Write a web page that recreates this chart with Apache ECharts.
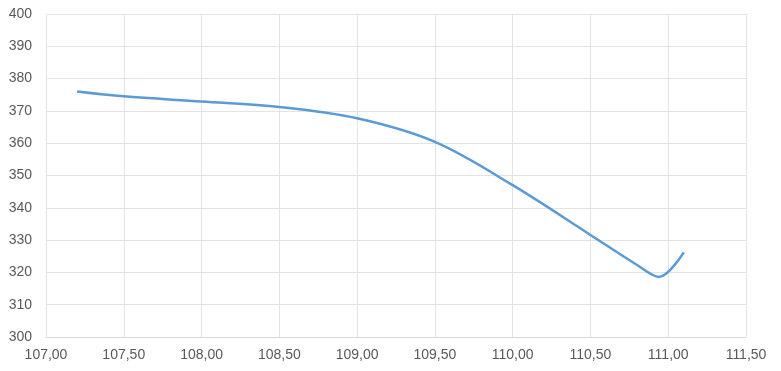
<!DOCTYPE html>
<html>
<head>
<meta charset="utf-8">
<script src="https://cdn.jsdelivr.net/npm/echarts@6/dist/echarts.min.js"></script>
<style>html,body{margin:0;padding:0;background:#fff}#c{width:781px;height:371px}</style>
</head>
<body>
<div id="c"></div>
<script>
const xValues = [107.2, 107.5, 108.0, 108.5, 109.0, 109.5, 110.0, 110.5, 110.8, 110.94, 111.1];
const yValues = [376.0, 374.5, 372.9, 371.2, 367.7, 360.4, 347.0, 331.6, 322.3, 318.6, 326.2];
const xTicks = {min: 107, max: 111.5, interval: 0.5};
const yTicks = {min: 300, max: 400, interval: 10};

const chart = echarts.init(document.getElementById('c'), null, {renderer: 'canvas'});
const labelFont = {color: '#595959', fontSize: 14, fontFamily: 'Liberation Sans'};
chart.setOption({
  animation: false,
  backgroundColor: '#ffffff',
  grid: {left: 46, right: 35, top: 14, bottom: 34, containLabel: false},
  xAxis: {
    type: 'value', min: xTicks.min, max: xTicks.max, interval: xTicks.interval,
    axisLine: {show: true, lineStyle: {color: '#d9d9d9'}},
    axisTick: {show: false},
    splitLine: {show: true, lineStyle: {color: '#e3e3e3'}},
    axisLabel: Object.assign({margin: 11, formatter: v => v.toFixed(2).replace('.', ',')}, labelFont)
  },
  yAxis: {
    type: 'value', min: yTicks.min, max: yTicks.max, interval: yTicks.interval,
    axisLine: {show: false},
    axisTick: {show: false},
    splitLine: {show: true, lineStyle: {color: '#e3e3e3'}},
    axisLabel: Object.assign({margin: 14}, labelFont)
  },
  series: [{
    type: 'line',
    data: xValues.map((x, i) => [x, yValues[i]]),
    smooth: 0.35,
    showSymbol: false,
    lineStyle: {color: '#5b9bd5', width: 2.5}
  }]
});
</script>
</body>
</html>
